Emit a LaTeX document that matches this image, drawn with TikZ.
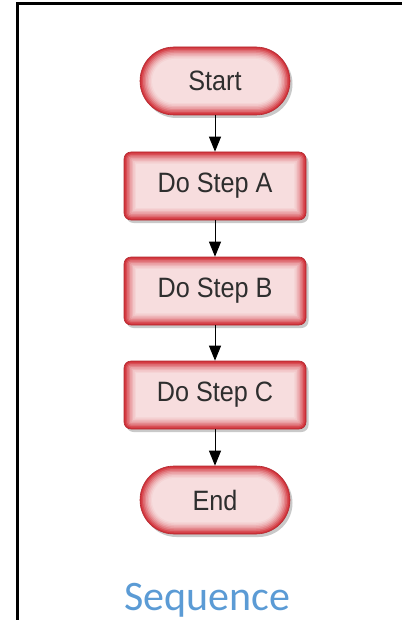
\documentclass[tikz,border=0pt]{standalone}
\usepackage{fontspec}
\setmainfont{Liberation Sans}
\newfontfamily\nodefont[FakeStretch=0.9]{Liberation Sans}
\newfontfamily\seqfont{Carlito}
\usetikzlibrary{arrows.meta,shadows}
\definecolor{gred}{HTML}{D2323A}
\definecolor{gpink}{HTML}{F8E2E3}
\definecolor{txt}{HTML}{2E2E2E}
\definecolor{seqblue}{HTML}{5B9BD5}
\tikzset{
  x=1pt, y=-1pt,
  glowfill/.style={fill=gred, draw=gred!85!black, line width=0.6pt,
    drop shadow={shadow xshift=2.5pt, shadow yshift=-3pt, opacity=0.3, fill=black!70},
    path picture={
      \foreach \i/\c in {1.5/85,3/68,4.5/52,6/38,7.5/26,9/16,10.5/8,12/3}{
        \pgfmathsetmacro\rr{max(\gr-\i,0.5)}
        \fill[gred!\c!gpink, rounded corners=\rr pt]
          ([shift={(\i pt,\i pt)}]path picture bounding box.south west) rectangle
          ([shift={(-\i pt,-\i pt)}]path picture bounding box.north east);
      }}},
  term/.style={/utils/exec={\def\gr{34}}, glowfill, rounded corners=34pt,
    minimum width=150pt, minimum height=68pt, inner sep=0pt,
    text=txt, font=\nodefont\fontsize{28}{32}\selectfont},
  proc/.style={/utils/exec={\def\gr{7}}, glowfill, rounded corners=7pt,
    minimum width=182pt, minimum height=68pt, inner sep=0pt,
    text=txt, font=\nodefont\fontsize{28}{32}\selectfont},
  arr/.style={draw=black, line width=0.9pt, -{Triangle[width=12pt,length=15pt]}}
}
\begin{document}
\begin{tikzpicture}
\useasboundingbox (0,0) rectangle (401,620);
\draw[line width=3pt, line join=miter] (17.5,621) -- (17.5,3.3) -- (402,3.3);
\node[term] (s) at (215,81) {Start};
\node[proc] (a) at (215,186) {Do Step A};
\node[proc] (b) at (215,291) {Do Step B};
\node[proc] (c) at (215,395) {Do Step C};
\node[term] (e) at (215,500) {End};
\draw[arr] (s) -- (a);
\draw[arr] (a) -- (b);
\draw[arr] (b) -- (c);
\draw[arr] (c) -- (e);
\node[font=\seqfont\fontsize{42}{50}\selectfont, text=seqblue, anchor=base, inner sep=0pt] (seq) at (207.5,610) {Sequence};
\end{tikzpicture}
\end{document}
